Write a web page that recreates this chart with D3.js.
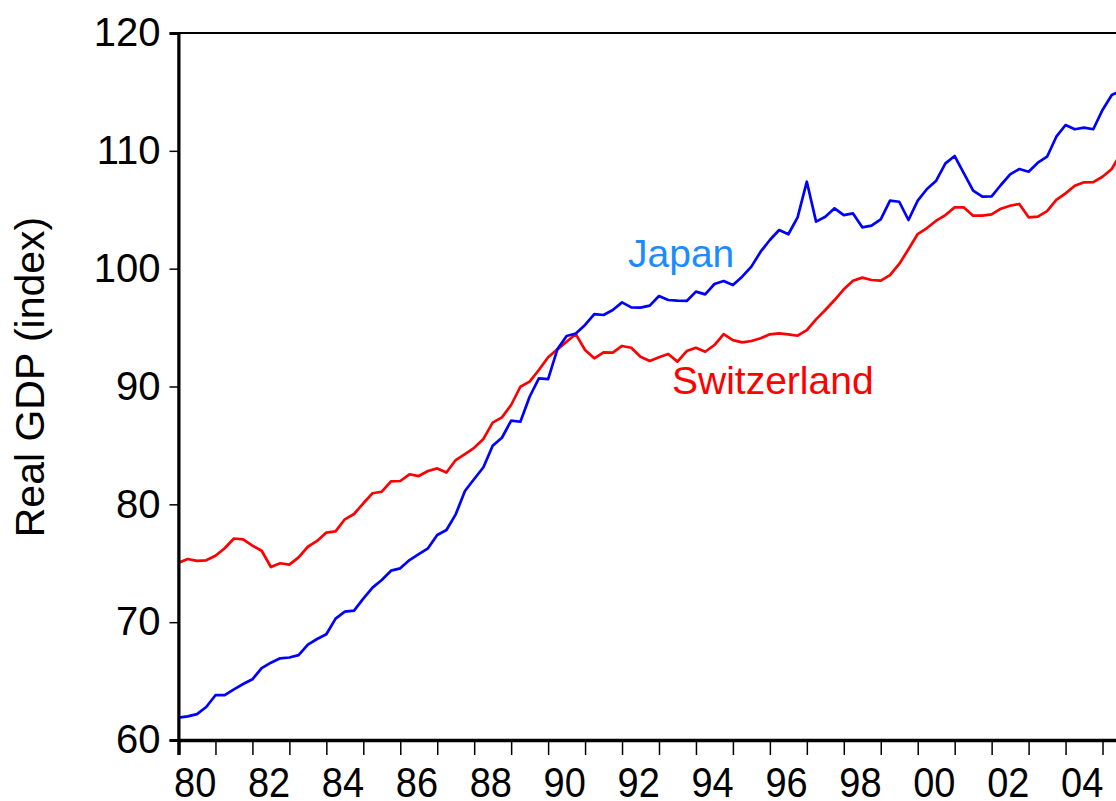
<!DOCTYPE html>
<html>
<head>
<meta charset="utf-8">
<script src="https://cdn.jsdelivr.net/npm/d3@7"></script>
<style>
  html, body { margin: 0; padding: 0; background: #fff; }
  svg { display: block; font-family: "Liberation Sans", Arial, sans-serif; }
</style>
</head>
<body>
<svg id="chart" width="1116" height="801"></svg>
<script>
// quarterly real GDP index, 1980Q1 onwards
const startYear = 1980;
const japan = [
  61.9, 62.0, 62.2, 62.8, 63.8, 63.8, 64.3, 64.75, 65.15, 66.1, 66.56, 66.93,
  67.0, 67.2, 68.1, 68.57, 68.97, 70.3, 70.89, 70.98, 72.0, 72.93, 73.58, 74.37,
  74.57, 75.27, 75.78, 76.27, 77.4, 77.82, 79.15, 81.13, 82.15, 83.15, 84.97, 85.65,
  87.1, 87.01, 89.13, 90.69, 90.63, 93.15, 94.28, 94.5, 95.22, 96.15, 96.07, 96.49,
  97.14, 96.72, 96.69, 96.86, 97.68, 97.34, 97.28, 97.26, 98.05, 97.82, 98.7, 98.95,
  98.61, 99.32, 100.17, 101.44, 102.43, 103.28, 102.92, 104.36, 107.38, 103.99, 104.41, 105.12,
  104.55, 104.69, 103.51, 103.65, 104.19, 105.77, 105.68, 104.13, 105.77, 106.76, 107.47, 108.94,
  109.56, 108.09, 106.62, 106.11, 106.14, 107.1, 108.0, 108.46, 108.23, 108.99, 109.5, 111.2,
  112.19, 111.83, 111.97, 111.83, 113.47, 114.74, 115.1
];
const switzerland = [
  75.05, 75.36, 75.2, 75.25, 75.64, 76.27, 77.1, 77.03, 76.5, 76.06, 74.68, 75.0,
  74.88, 75.5, 76.4, 76.89, 77.6, 77.7, 78.73, 79.18, 80.09, 80.94, 81.07, 81.95,
  81.98, 82.55, 82.4, 82.83, 83.05, 82.7, 83.76, 84.27, 84.8, 85.55, 86.93, 87.38,
  88.43, 89.98, 90.41, 91.4, 92.48, 93.15, 93.8, 94.45, 93.1, 92.39, 92.9, 92.87,
  93.44, 93.29, 92.53, 92.16, 92.48, 92.76, 92.11, 93.01, 93.29, 92.95, 93.52, 94.45,
  93.94, 93.75, 93.86, 94.09, 94.43, 94.51, 94.43, 94.31, 94.79, 95.7, 96.49, 97.34,
  98.25, 98.98, 99.24, 99.04, 98.98, 99.46, 100.4, 101.64, 102.94, 103.45, 104.07, 104.55,
  105.2, 105.2, 104.5, 104.5, 104.61, 105.09, 105.34, 105.49, 104.36, 104.41, 104.89, 105.83,
  106.39, 107.04, 107.33, 107.35, 107.8, 108.46, 109.8
];
const yTicks = [60, 70, 80, 90, 100, 110, 120];
const tickYears = d3.range(1980, 2006);
const labelYears = d3.range(1980, 2005, 2);

const plot = { left: 178.5, top: 33, right: 1121, bottom: 740 };

const svg = d3.select('#chart');

const x = d3.scaleLinear().domain([1980, 2005.5]).range([plot.left, plot.right]);
const y = d3.scaleLinear().domain([60, 120]).range([plot.bottom, plot.top]);

const toPoints = vals => vals.map((v, i) => ({ t: startYear + i / 4, v }));

const line = d3.line()
  .x(d => x(d.t))
  .y(d => y(d.v));

svg.append('clipPath').attr('id', 'clip')
  .append('rect')
  .attr('x', plot.left).attr('y', plot.top)
  .attr('width', plot.right - plot.left).attr('height', plot.bottom - plot.top);

const gLines = svg.append('g').attr('clip-path', 'url(#clip)');

gLines.append('path')
  .datum(toPoints(switzerland))
  .attr('fill', 'none')
  .attr('stroke', '#ff0000')
  .attr('stroke-width', 2.7)
  .attr('stroke-linejoin', 'round')
  .attr('d', line);

gLines.append('path')
  .datum(toPoints(japan))
  .attr('fill', 'none')
  .attr('stroke', '#0000ff')
  .attr('stroke-width', 2.7)
  .attr('stroke-linejoin', 'round')
  .attr('d', line);

// frame
svg.append('rect')
  .attr('x', plot.left).attr('y', plot.top)
  .attr('width', plot.right - plot.left).attr('height', plot.bottom - plot.top)
  .attr('fill', 'none')
  .attr('stroke', '#000')
  .attr('stroke-width', 2);

// y axis
const yAxis = d3.axisLeft(y)
  .tickValues(yTicks)
  .tickSize(9)
  .tickPadding(9)
  .tickFormat(d3.format('d'));

const gY = svg.append('g')
  .attr('transform', `translate(${plot.left},0)`)
  .call(yAxis);
gY.select('.domain').attr('stroke-width', 3);
gY.selectAll('.tick line').attr('stroke-width', 1.5);
gY.selectAll('.tick text')
  .attr('font-size', 40)
  .attr('font-family', '"Liberation Sans", Arial, sans-serif')
  .attr('fill', '#000');

// x axis: yearly ticks, labels centred on the year
const xAxis = d3.axisBottom(x)
  .tickValues(tickYears)
  .tickSize(15)
  .tickFormat('');

const gX = svg.append('g')
  .attr('transform', `translate(0,${plot.bottom})`)
  .call(xAxis);
gX.select('.domain').attr('stroke-width', 3.5);
gX.selectAll('.tick line').attr('stroke-width', 1.5);

// labels are a bit taller than wide in the original
svg.append('g')
  .selectAll('text')
  .data(labelYears)
  .enter()
  .append('text')
  .attr('transform', d => `translate(${x(d + 0.45)},797) scale(1,1.12)`)
  .attr('text-anchor', 'middle')
  .attr('font-size', 38)
  .text(d => String(d % 100).padStart(2, '0'));

// y axis title
svg.append('text')
  .attr('transform', 'translate(44,377) rotate(-90)')
  .attr('text-anchor', 'middle')
  .attr('font-size', 41)
  .text('Real GDP (index)');

// series labels
svg.append('text')
  .attr('x', 628).attr('y', 267)
  .attr('font-size', 39)
  .attr('fill', '#1a8cff')
  .text('Japan');

svg.append('text')
  .attr('x', 672).attr('y', 394)
  .attr('font-size', 39)
  .attr('fill', '#ff0000')
  .text('Switzerland');
</script>
</body>
</html>
